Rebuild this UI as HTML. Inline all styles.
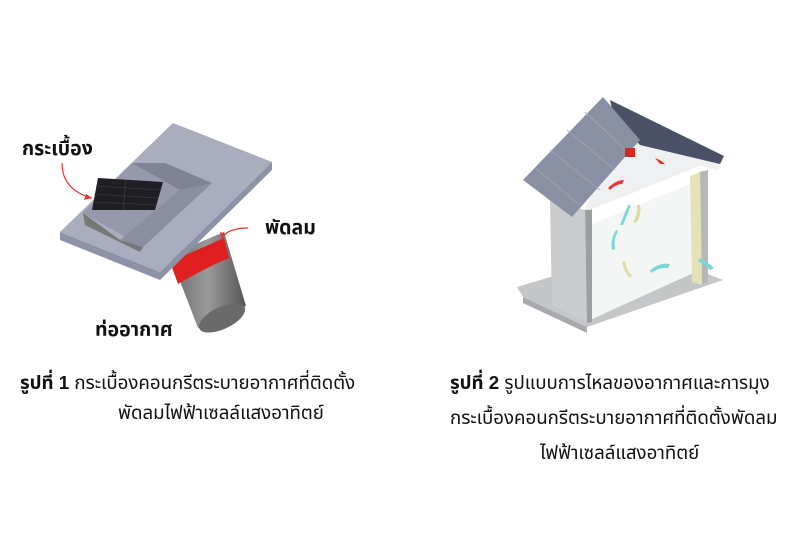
<!DOCTYPE html>
<html><head><meta charset="utf-8"><style>
html,body{margin:0;padding:0;background:#fff;width:800px;height:550px;overflow:hidden}
.t{position:absolute;font-family:"Liberation Sans","Noto Sans Thai","DejaVu Sans",sans-serif;color:#111;white-space:nowrap}
.b{font-weight:bold}
</style></head><body>
<svg width="800" height="550" style="position:absolute;left:0;top:0">
<defs>
<linearGradient id="pipe" x1="0" x2="1"><stop offset="0" stop-color="#6a6a6a"/><stop offset=".5" stop-color="#9a9a9a"/><stop offset="1" stop-color="#555"/></linearGradient>
</defs>
<polygon points="170,255 224,232 246,306 198,328" fill="url(#pipe)"/>
<ellipse cx="222" cy="318" rx="25" ry="11" fill="#6a6a6a" transform="rotate(-25 222 318)"/>
<path d="M170,262 L224,238 L229,258 Q205,268 178,284 Z" fill="#e02020"/>
<polygon points="60,232 60,240 160,280 272,170 272,162 160,272" fill="#8d92a6"/>
<polygon points="173,123 272,162 160,272 60,232" fill="#a9adbe"/>
<polygon points="83,213 132,163 165,163 212,183 143,247" fill="#9599ab"/>
<polygon points="132,163 165,163 212,183 180,190" fill="#7f8395"/>
<polygon points="180,190 212,183 143,247 120,240" fill="#8a8ea0"/>
<polygon points="83,213 120,240 143,247 140,252 85,225" fill="#777"/>
<polygon points="98,178 163,182 155,210 92,210" fill="#1e1e24"/>
<g stroke="#444" stroke-width="0.6"><line x1="126" y1="180" x2="123" y2="210"/><line x1="96" y1="186" x2="160" y2="190"/><line x1="94" y1="194" x2="158" y2="198"/><line x1="93" y1="202" x2="157" y2="205"/></g>
<path d="M62,163 Q62,190 92,198" fill="none" stroke="#e33" stroke-width="1.2"/>
<polygon points="92,198 84,200 86,194" fill="#e33"/>
<path d="M248,228 Q228,228 222,238" fill="none" stroke="#e33" stroke-width="1.2"/>
<polygon points="222,240 220,232 226,234" fill="#e33"/>
<!-- figure 2 house -->
<polygon points="517,287 523,297 587,327 723,280 697,270 640,250" fill="#c4c6c8"/>
<polygon points="523,297 587,327 587,333 523,303" fill="#a8aaad"/>
<polygon points="590,225 700,180 700,270 590,320" fill="#f4f6f6"/>
<polygon points="550,200 585,210 587,323 552,305" fill="#c9cbcd"/>
<polygon points="585,210 592,208 592,322 587,323" fill="#9c9ea0"/>
<polygon points="690,176 700,172 702,285 692,282" fill="#e6e2b8"/>
<polygon points="700,172 708,170 708,282 702,285" fill="#b7b8b2"/>
<polygon points="608,103 723,160 718,170 700,166 590,210 585,210 610,150" fill="#eef0f2"/>
<polygon points="610,100 724,156 720,164 640,145 614,118" fill="#4a5166"/>
<polygon points="603,97 640,140 572,217 523,180" fill="#8a90a3"/>
<g stroke="#a2a8b8" stroke-width="0.8"><line x1="535" y1="168" x2="580" y2="205"/><line x1="550" y1="150" x2="600" y2="190"/><line x1="567" y1="130" x2="615" y2="170"/><line x1="585" y1="112" x2="628" y2="152"/></g>
<rect x="625" y="148" width="10" height="9" fill="#d22"/>
<g fill="#e33"><path d="M608,188 q8,-8 16,-8 l-2,4 q-6,0 -12,6z"/><path d="M655,158 q6,2 10,6 l-5,0z"/></g>
<g fill="#7ad7d8"><path d="M628,205 q-4,10 -8,20 l3,0 q4,-10 8,-20z"/><path d="M616,230 q-6,10 -4,20 l3,-1 q-2,-9 3,-18z"/><path d="M650,270 q10,-8 20,-6 l-2,4 q-8,-1 -17,5z"/><path d="M700,258 q8,4 14,10 l-4,2 q-5,-5 -12,-9z"/></g>
<g fill="#dedba0"><path d="M640,205 q2,10 -4,18 l-3,-1 q5,-7 4,-17z"/><path d="M622,262 q2,10 8,16 l2,-2 q-6,-6 -7,-15z"/></g>
</svg>
<div class="t b" style="left:22px;top:134px;font-size:19.5px">กระเบื้อง</div>
<div class="t b" style="left:265px;top:213px;font-size:19.5px">พัดลม</div>
<div class="t b" style="left:95px;top:315px;font-size:19.5px">ท่ออากาศ</div>
<div class="t" style="left:20px;top:370px;font-size:18.7px"><b>รูปที่ 1</b> กระเบื้องคอนกรีตระบายอากาศที่ติดตั้ง</div>
<div class="t" style="left:118px;top:400px;font-size:18.7px">พัดลมไฟฟ้าเซลล์แสงอาทิตย์</div>
<div class="t" style="left:450px;top:370px;font-size:18.7px"><b>รูปที่ 2</b> รูปแบบการไหลของอากาศและการมุง</div>
<div class="t" style="left:450px;top:405px;font-size:18.7px">กระเบื้องคอนกรีตระบายอากาศที่ติดตั้งพัดลม</div>
<div class="t" style="left:540px;top:440px;font-size:18.7px">ไฟฟ้าเซลล์แสงอาทิตย์</div>
</body></html>
